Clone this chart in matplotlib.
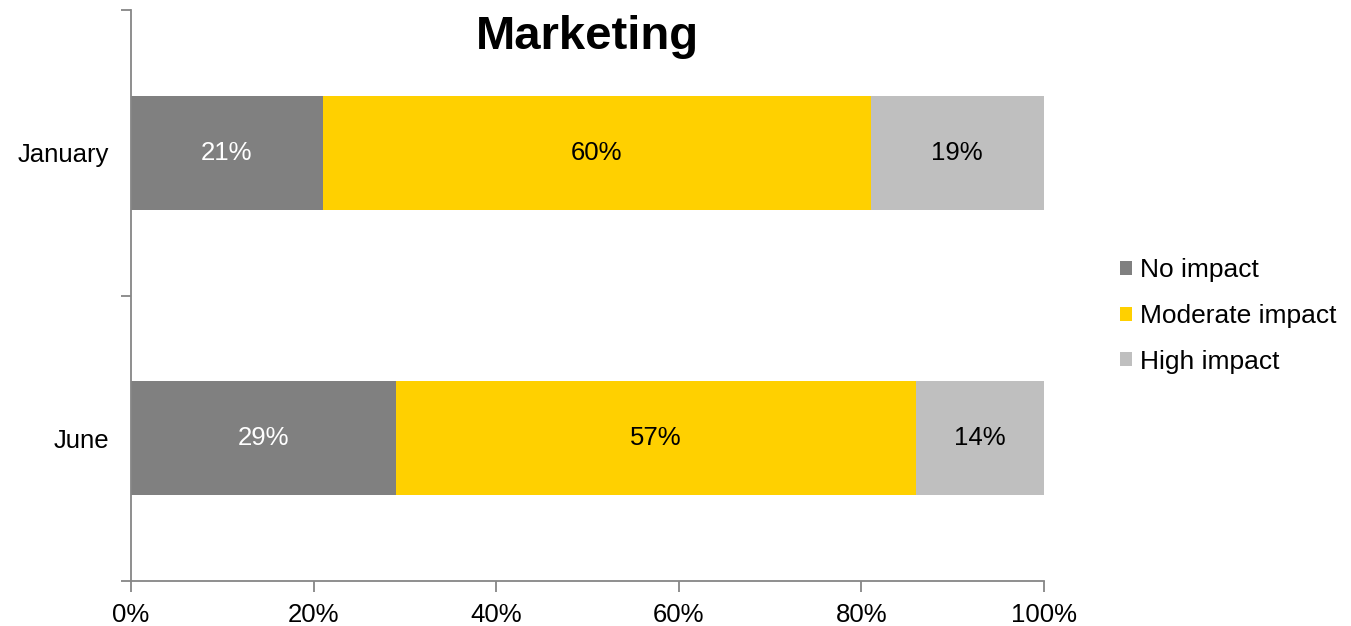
import matplotlib.pyplot as plt
from matplotlib.patches import Patch
from matplotlib.ticker import FixedLocator, PercentFormatter

plt.rcParams["font.family"] = ["Liberation Sans", "DejaVu Sans"]

months = ["January", "June"]
series = ["No impact", "Moderate impact", "High impact"]
shares = {
    "No impact": [21, 29],
    "Moderate impact": [60, 57],
    "High impact": [19, 14],
}
colors = {
    "No impact": "#808080",
    "Moderate impact": "#FFD000",
    "High impact": "#BFBFBF",
}
label_colors = {
    "No impact": "white",
    "Moderate impact": "black",
    "High impact": "black",
}

fig = plt.figure(figsize=(13.51, 6.26), dpi=100)
ax = fig.add_axes([131 / 1351, 1 - 581 / 626, (1044 - 131) / 1351, 571 / 626])

# January on top
ypos = [1, 0]
left = [0, 0]
for name in series:
    vals = shares[name]
    ax.barh(ypos, vals, left=left, height=0.4, color=colors[name], edgecolor="none")
    for y, l, v in zip(ypos, left, vals):
        ax.text(l + v / 2, y, f"{v}%", ha="center", va="center",
                fontsize=18.5, color=label_colors[name])
    left = [l + v for l, v in zip(left, vals)]

ax.set_xlim(0, 100)
ax.set_ylim(-0.5, 1.5)
ax.set_xticks(range(0, 101, 20))
ax.xaxis.set_major_formatter(PercentFormatter(decimals=0))
ax.set_yticks(ypos)
ax.set_yticklabels(months)
ax.yaxis.set_minor_locator(FixedLocator([-0.5, 0.5, 1.5]))

spine_color = "#868686"
for side in ("top", "right"):
    ax.spines[side].set_visible(False)
for side in ("left", "bottom"):
    ax.spines[side].set_color(spine_color)
    ax.spines[side].set_linewidth(1.3)

ax.tick_params(axis="y", which="major", length=0, pad=16, labelsize=18.5)
ax.tick_params(axis="y", which="minor", length=7, width=1.3, color=spine_color)
ax.tick_params(axis="x", length=8, width=1.3, color=spine_color, labelsize=18.5, pad=8)

ax.set_title("Marketing", fontsize=34, fontweight="bold", pad=-28, y=1.0)

handles = [Patch(facecolor=colors[n], edgecolor="none") for n in series]
fig.legend(handles, series, loc="center left", bbox_to_anchor=(1120 / 1351, 1 - 316 / 626),
           frameon=False, fontsize=19, handlelength=0.45, handleheight=0.45,
           handletextpad=0.32, labelspacing=0.82, borderpad=0, borderaxespad=0)

fig.savefig("out.png", dpi=100)
